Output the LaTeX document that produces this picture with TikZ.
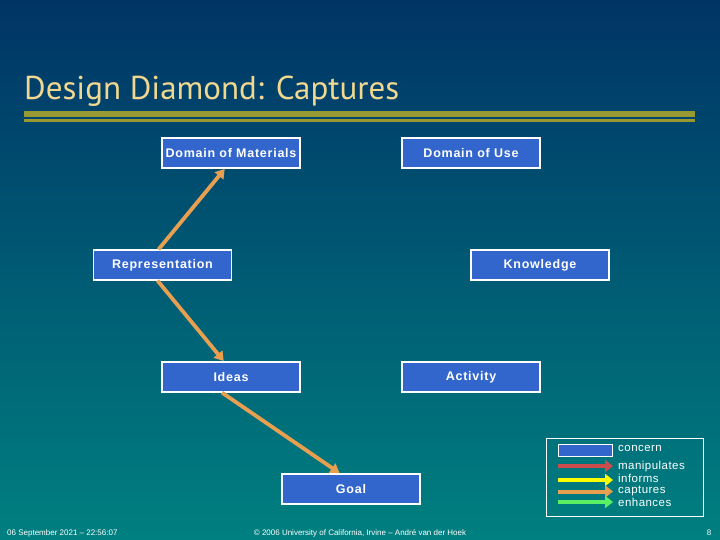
\documentclass[tikz,border=0pt]{standalone}
\usepackage{fontspec}
\setmainfont{Liberation Sans}
\newfontfamily\titlefont{PT Sans}
\usetikzlibrary{arrows.meta}
\definecolor{bgtop}{RGB}{0,52,102}
\definecolor{bgbot}{RGB}{0,128,128}
\definecolor{titlecol}{RGB}{240,216,144}
\definecolor{rulecol}{RGB}{153,153,51}
\definecolor{boxfill}{RGB}{51,102,204}
\definecolor{capcol}{RGB}{232,160,80}
\definecolor{mancol}{RGB}{204,76,76}
\definecolor{infcol}{RGB}{255,255,0}
\definecolor{enhcol}{RGB}{90,240,100}
\tikzset{
  concernbox/.style={draw=white, line width=1.2pt, fill=boxfill, minimum width=138pt, minimum height=30pt, inner sep=0pt, text=white, font=\fontsize{12.5}{14}\selectfont\bfseries\addfontfeature{LetterSpace=6}},
  capturearrow/.style={draw=capcol, line width=3.8pt, -{Triangle[length=9pt,width=11pt]}, shorten >=0.5pt},
  legarrow/.style={line width=4pt, -{Triangle[length=8pt,width=12pt]}},
  legtext/.style={anchor=west, inner sep=0pt, text=white, font=\fontsize{11.5}{12}\selectfont\addfontfeature{LetterSpace=4}},
  foot/.style={inner sep=0pt, text=white, font=\fontsize{8}{9}\selectfont}
}
\begin{document}
\begin{tikzpicture}[x=1pt,y=-1pt]
\useasboundingbox (0,0) rectangle (720,540);
\shade[top color=bgtop, bottom color=bgbot] (0,0) rectangle (720,540);
% title
\node[anchor=base west, inner sep=0pt, text=titlecol, font=\titlefont\fontsize{33}{36}\selectfont] (title) at (24,99.5) {Design Diamond: Captures};
\fill[rulecol] (24,110.7) rectangle (695,117.3);
\fill[rulecol] (24,119) rectangle (695,121.7);
% concerns
\node[concernbox] (dom) at (231,153) {Domain of Materials};
\node[concernbox] (use) at (471,153) {Domain of Use};
\node[concernbox] (rep) at (162.5,265) {Representation};
\node[concernbox] (know) at (540,265) {Knowledge};
\node[concernbox] (ideas) at (231,377) {Ideas};
\node[concernbox] (act) at (471,377) {Activity};
\node[concernbox] (goal) at (351,489) {Goal};
% captures arrows
\draw[capturearrow] ([xshift=-4pt]rep.north) -- ([xshift=-6pt]dom.south);
\draw[capturearrow] ([xshift=-5pt]rep.south) -- ([xshift=-7pt]ideas.north);
\draw[capturearrow] ([xshift=-9pt]ideas.south) -- ([xshift=-11pt]goal.north);
% legend
\node[draw=white, line width=1pt, minimum width=157pt, minimum height=78pt, inner sep=0pt] (legend) at (624.5,477) {};
\node[draw=white, line width=0.8pt, fill=boxfill, minimum width=54pt, minimum height=12pt, inner sep=0pt] (legbox) at (585,450) {};
\node[legtext] (lconcern) at (618,448.5) {concern};
\node[legtext] (lman) at (618,466.5) {manipulates};
\node[legtext] (linf) at (618,478.5) {informs};
\node[legtext] (lcap) at (618,490.5) {captures};
\node[legtext] (lenh) at (618,502.5) {enhances};
\coordinate (m0) at (558,466); \coordinate (m1) at (613,466);
\coordinate (i0) at (558,480); \coordinate (i1) at (613,480);
\coordinate (c0) at (558,491.5); \coordinate (c1) at (613,491.5);
\coordinate (e0) at (558,502); \coordinate (e1) at (613,502);
\draw[legarrow, draw=mancol] (m0) -- (m1);
\draw[legarrow, draw=infcol] (i0) -- (i1);
\draw[legarrow, draw=capcol] (c0) -- (c1);
\draw[legarrow, draw=enhcol] (e0) -- (e1);
% footer
\node[foot, anchor=west] (date) at (7,533) {06 September 2021 -- 22:56:07};
\node[foot] (copy) at (360,533) {© 2006 University of California, Irvine -- André van der Hoek};
\node[foot] (page) at (709,533) {8};
\end{tikzpicture}
\end{document}
